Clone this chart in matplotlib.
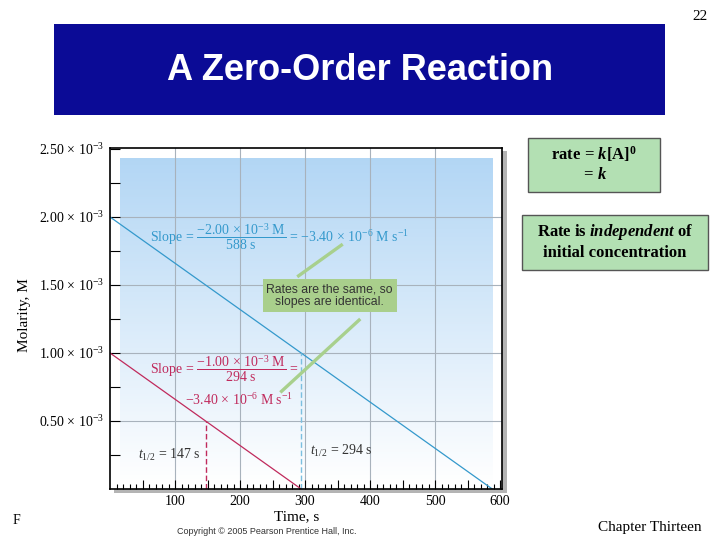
import numpy as np
import matplotlib
matplotlib.use('Agg')
import matplotlib.pyplot as plt
from matplotlib.patches import Rectangle

# data
time_a = [0, 588]          # s, initial 2.00e-3 M
conc_a = [2.00e-3, 0.0]
time_b = [0, 294]          # s, initial 1.00e-3 M
conc_b = [1.00e-3, 0.0]
half_times = [147, 294]
half_concs = [0.50e-3, 1.00e-3]
yticks = [0.50e-3, 1.00e-3, 1.50e-3, 2.00e-3, 2.50e-3]
ylabels = [r"$0.50\,\times\,10^{-3}$", r"$1.00\,\times\,10^{-3}$", r"$1.50\,\times\,10^{-3}$",
           r"$2.00\,\times\,10^{-3}$", r"$2.50\,\times\,10^{-3}$"]
xticks = [100, 200, 300, 400, 500, 600]

plt.rcParams['font.family'] = ['Liberation Serif', 'DejaVu Serif']
plt.rcParams['mathtext.fontset'] = 'custom'
plt.rcParams['mathtext.rm'] = 'Liberation Serif'
plt.rcParams['mathtext.it'] = 'Liberation Serif:italic'
plt.rcParams['mathtext.bf'] = 'Liberation Serif:bold'
plt.rcParams['mathtext.bfit'] = 'Liberation Serif:italic:bold'

blue = '#3499cc'
red = '#c02a5c'
gridc = '#a8b2bc'
W, H = 720, 540

fig = plt.figure(figsize=(7.2, 5.4), dpi=100)

def fx(px):
    return px / W

def fy(py):
    return 1 - py / H

# title bar
fig.patches.append(Rectangle((fx(54), fy(115)), fx(611), 91 / H, transform=fig.transFigure,
                             facecolor='#0b0b96', edgecolor='none', zorder=0))
fig.text(fx(360), fy(70), "A Zero-Order Reaction", color='white', fontsize=26,
         fontweight='bold', family='Liberation Sans', ha='center', va='center')
fig.text(fx(708), fy(16), "22", fontsize=11, ha='right', va='center')

# shadow behind chart frame
fig.patches.append(Rectangle((fx(114), fy(493)), fx(393), 342 / H, transform=fig.transFigure,
                             facecolor='#b4b4b4', edgecolor='none', zorder=0))

ax = fig.add_axes([fx(110), fy(489), fx(392), 341 / H])
ax.set_zorder(2)
ax.set_facecolor('white')
ax.set_xlim(0, 603)
ax.set_ylim(0, 2.507e-3)

# gradient panel
grad = np.linspace(0, 1, 256)[:, None]
top = np.array([0.70, 0.84, 0.96])
img = (1 - grad)[:, :, None] * np.ones(3) + grad[:, :, None] * top
ax.imshow(img, origin='lower', extent=[15, 588, 0.04e-3, 2.43e-3], aspect='auto', zorder=0)

for t in xticks[:-1]:
    ax.axvline(t, color=gridc, lw=0.8, zorder=1)
for c in yticks[:-1]:
    ax.axhline(c, color=gridc, lw=0.8, zorder=1)

ax.set_yticks(yticks)
ax.set_yticklabels(ylabels, fontsize=10)
ax.set_yticks(np.arange(0.25e-3, 2.5e-3, 0.5e-3), minor=True)
ax.set_xticks(np.arange(50, 601, 50))
ax.set_xticklabels([str(t) if t % 100 == 0 else '' for t in range(50, 601, 50)], fontsize=10)
ax.set_xticks(np.arange(10, 600, 10), minor=True)
ax.tick_params(axis='both', which='both', direction='in', color='black')
ax.tick_params(axis='y', which='major', length=7, width=0.8, pad=4)
ax.tick_params(axis='y', which='minor', length=7, width=0.8)
ax.tick_params(axis='x', which='major', length=6.5, width=0.8, pad=4)
ax.tick_params(axis='x', which='minor', length=3.5, width=0.8)
for s in ax.spines.values():
    s.set_linewidth(1.2)
    s.set_zorder(5)

ax.plot(time_a, conc_a, color=blue, lw=0.9, zorder=3)
ax.plot(time_b, conc_b, color=red, lw=0.9, zorder=3)
ax.plot([half_times[0]] * 2, [0, half_concs[0]], color=red, lw=1.0, ls=(0, (4, 2)), zorder=3)
ax.plot([half_times[1]] * 2, [0, half_concs[1]], color='#7bbfe0', lw=1.0, ls=(0, (4, 2)), zorder=3)

# slope annotations
ax.text(62, 1.85e-3, r"Slope = $\dfrac{-2.00 \,\times\, 10^{-3}\ \mathrm{M}}{588\ \mathrm{s}}$ = "
        r"$-3.40 \,\times\, 10^{-6}\ \mathrm{M\ s}^{-1}$", color=blue, fontsize=10, va='center', zorder=4)
ax.text(62, 0.88e-3, r"Slope = $\dfrac{-1.00 \,\times\, 10^{-3}\ \mathrm{M}}{294\ \mathrm{s}}$ =",
        color=red, fontsize=10, va='center', zorder=4)
ax.text(115, 0.655e-3, r"$-3.40 \,\times\, 10^{-6}\ \mathrm{M\ s}^{-1}$", color=red, fontsize=10,
        va='center', zorder=4)
ax.text(43, 0.25e-3, r"$t_{1/2}$ = 147 s", color='#333333', fontsize=10, va='center', zorder=4)
ax.text(308, 0.28e-3, r"$t_{1/2}$ = 294 s", color='#333333', fontsize=10, va='center', zorder=4)

# callout
ax.plot([288, 358], [1.56e-3, 1.80e-3], color='#a8d08d', lw=2.4, zorder=3, solid_capstyle='butt')
ax.plot([385, 262], [1.25e-3, 0.71e-3], color='#a8d08d', lw=2.4, zorder=3, solid_capstyle='butt')
ax.text(338, 1.42e-3, "Rates are the same, so\nslopes are identical.", family='Liberation Sans',
        fontsize=8.8, color='#333333', ha='center', va='center', linespacing=1.1, zorder=4,
        bbox=dict(boxstyle='square,pad=0.32', facecolor='#a9cf8c', edgecolor='none'))

fig.text(fx(25), fy(315), "Molarity, M", rotation=90, fontsize=11, ha='center', va='center')
fig.text(fx(297), fy(517), "Time, s", fontsize=11, ha='center', va='center')
fig.text(fx(267), fy(532), "Copyright \u00a9 2005 Pearson Prentice Hall, Inc.", family='Liberation Sans',
         fontsize=6.5, color='#333333', ha='center', va='center')

# side boxes
fig.patches.append(Rectangle((fx(528), fy(192)), fx(132), 54 / H, transform=fig.transFigure,
                             facecolor='#b3e0b3', edgecolor='#555555', lw=1.0, zorder=0))
fig.text(fx(594), fy(154), r"$\mathbf{rate}\,\mathbf{=}\,\mathbfit{k}\mathbf{[A]}^{\mathbf{0}}$",
         fontsize=12, ha='center', va='center')
fig.text(fx(594), fy(175), r"$\mathbf{=}\,\mathbfit{k}$", fontsize=12, ha='center', va='center')
fig.patches.append(Rectangle((fx(522), fy(270)), fx(186), 55 / H, transform=fig.transFigure,
                             facecolor='#b3e0b3', edgecolor='#555555', lw=1.0, zorder=0))
fig.text(fx(615), fy(232), r"$\mathbf{Rate\ is\ }\mathbfit{independent}\mathbf{\ of}$",
         fontsize=12, ha='center', va='center')
fig.text(fx(615), fy(253), "initial concentration", fontsize=12, fontweight='bold',
         ha='center', va='center')

fig.text(fx(702), fy(528), "Chapter Thirteen", fontsize=11, ha='right', va='center')
fig.text(fx(13), fy(520), "F", fontsize=10, ha='left', va='center')

fig.savefig('out.png', dpi=100)
plt.close(fig)
